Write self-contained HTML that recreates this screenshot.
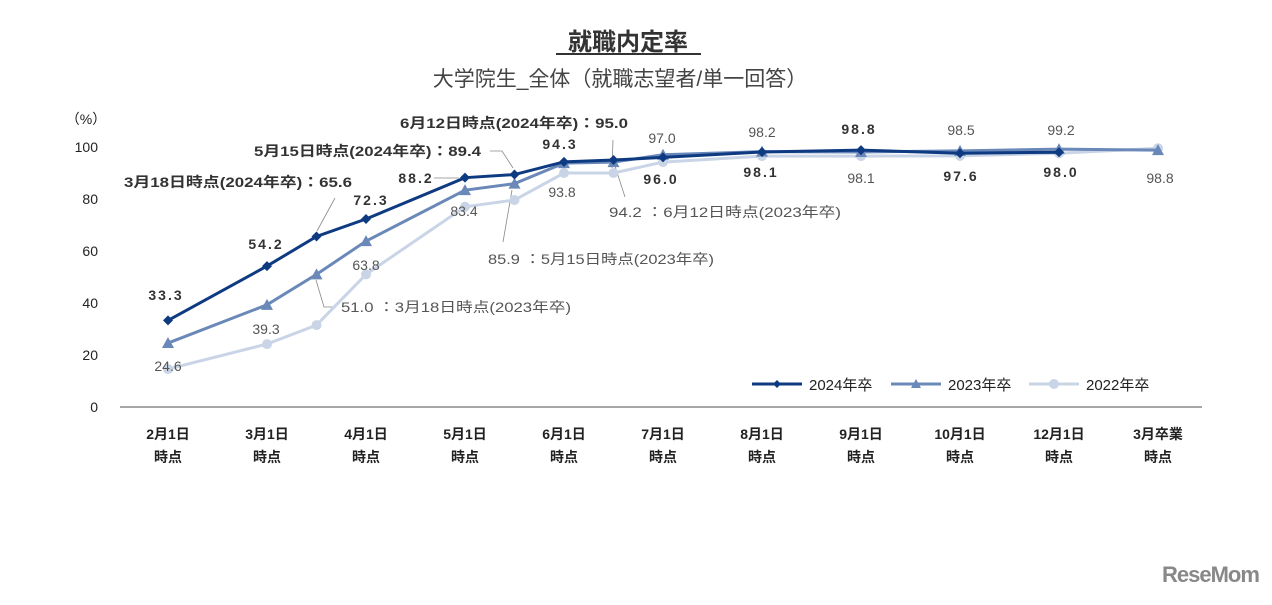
<!DOCTYPE html>
<html><head><meta charset="utf-8"><style>
body{margin:0;background:#fff;width:1272px;height:600px;overflow:hidden;font-family:"Liberation Sans","Noto Sans CJK JP",sans-serif}
</style></head><body>
<svg id="c" width="1272" height="600" font-family="'Liberation Sans','Noto Sans CJK JP',sans-serif">
<text x="628" y="50" text-anchor="middle" font-size="24" font-weight="bold" fill="#333">就職内定率</text>
<line x1="556" y1="54" x2="701" y2="54" stroke="#333" stroke-width="2"/>
<text x="620" y="86" text-anchor="middle" font-size="21" fill="#444">大学院生_全体（就職志望者/単一回答）</text>
<text x="86" y="124" text-anchor="middle" font-size="14" fill="#222">（%）</text>
<g id="g"></g>
</svg>
<script>
const cats=["2月1日","3月1日","3月18日","4月1日","5月1日","5月15日","6月1日","6月12日","7月1日","8月1日","9月1日","10月1日","12月1日","3月卒業"];
const catPos=[0,1,1.5,2,3,3.5,4,4.5,5,6,7,8,9,10];
const axisLabels=[["2月1日","時点"],["3月1日","時点"],["4月1日","時点"],["5月1日","時点"],["6月1日","時点"],["7月1日","時点"],["8月1日","時点"],["9月1日","時点"],["10月1日","時点"],["12月1日","時点"],["3月卒業","時点"]];
const s2024=[33.3,54.2,65.6,72.3,88.2,89.4,94.3,95.0,96.0,98.1,98.8,97.6,98.0,null];
const s2023=[24.6,39.3,51.0,63.8,83.4,85.9,93.8,94.2,97.0,98.2,98.1,98.5,99.2,98.8];
const s2022=[14.6,24.2,31.5,51.0,77.0,79.6,90.0,90.0,94.2,96.5,96.5,96.6,97.6,99.5];
const yTicks=[0,20,40,60,80,100];
const X=p=>168+p*99, Y=v=>407-v*2.6;
const g=document.getElementById('g');
const NS='http://www.w3.org/2000/svg';
function mk(t,a,txt){const e=document.createElementNS(NS,t);for(const k in a)e.setAttribute(k,a[k]);if(txt!=null)e.textContent=txt;g.appendChild(e);return e;}
yTicks.forEach(v=>{const t=mk('text',{x:98,y:Y(v)+5,'text-anchor':'end','font-size':14,fill:'#222'},v);

});
const ax=mk('line',{x1:120,y1:407,x2:1202,y2:407,stroke:'#888','stroke-width':1.5});


axisLabels.forEach((l,i)=>{l.forEach((s,j)=>{const t=mk('text',{x:X(i),y:439+j*23,'text-anchor':'middle','font-size':14,'font-weight':'bold',fill:'#222'},s);

});});
[[335,198,317,231],[490,151,502,151,513,168],[434,178,459,178],[316,280,324,307,334,307],[512,190,503,242],[613,140,612,168],[614,163,625,197]].forEach(p=>{let pts=[];for(let i=0;i<p.length;i+=2)pts.push(p[i]+','+p[i+1]);
const l=mk('polyline',{points:pts.join(' '),fill:'none',stroke:'#888','stroke-width':0.8});

});
function series(d,color,w,marker,name){
 let pts=[];d.forEach((v,i)=>{if(v!=null)pts.push([X(catPos[i]),Y(v)]);});
 const pl=mk('polyline',{points:pts.map(p=>p.join(',')).join(' '),fill:'none',stroke:color,'stroke-width':w});
 
 
 pts.forEach(p=>{let m;
  if(marker=='d')m=mk('polygon',{points:`${p[0]},${p[1]-5} ${p[0]+5},${p[1]} ${p[0]},${p[1]+5} ${p[0]-5},${p[1]}`,fill:color});
  else if(marker=='t')m=mk('polygon',{points:`${p[0]},${p[1]-6} ${p[0]+6},${p[1]+5} ${p[0]-6},${p[1]+5}`,fill:color});
  else m=mk('circle',{cx:p[0],cy:p[1],r:5,fill:color});
  
  });
}
series(s2022,'#c9d5e6',3,'c','series-2022');
series(s2023,'#6a88b8',3,'t','series-2023');
series(s2024,'#0e3a82',3,'d','series-2024');
function lab(x,y,s,b,anchor,len){const a={x:x,y:y,'text-anchor':anchor||'middle','font-size':14,'font-weight':b?'bold':'normal',fill:b?'#333':'#555','letter-spacing':b?2:0};
if(len){a.textLength=len;a.lengthAdjust='spacingAndGlyphs';a['letter-spacing']=0;}
const t=mk('text',a,s);

}
lab(166,300,'33.3',1);lab(266,249,'54.2',1);lab(371,205,'72.3',1);lab(416,183,'88.2',1);lab(560,149,'94.3',1);
lab(661,184,'96.0',1);lab(761,177,'98.1',1);lab(859,134,'98.8',1);lab(961,181,'97.6',1);lab(1061,177,'98.0',1);
lab(168,371,'24.6');lab(266,334,'39.3');lab(366,270,'63.8');lab(464,216,'83.4');lab(562,197,'93.8');
lab(662,143,'97.0');lab(762,137,'98.2');lab(961,135,'98.5');lab(1061,135,'99.2');lab(1160,183,'98.8');lab(861,183,'98.1');
lab(124,187,'3月18日時点(2024年卒)：65.6',1,'start',228);
lab(254,156,'5月15日時点(2024年卒)：89.4',1,'start',227);
lab(400,128,'6月12日時点(2024年卒)：95.0',1,'start',228);
lab(341,312,'51.0 ：3月18日時点(2023年卒)',0,'start',230);
lab(488,264,'85.9 ：5月15日時点(2023年卒)',0,'start',226);
lab(609,217,'94.2 ：6月12日時点(2023年卒)',0,'start',232);
[['2024年卒','#0e3a82','d',752],['2023年卒','#6a88b8','t',891],['2022年卒','#c9d5e6','c',1029]].forEach(([n,c,m,x])=>{
 const l=mk('line',{x1:x,y1:384,x2:x+50,y2:384,stroke:c,'stroke-width':3});
 
 
 const cx=x+25;
 if(m=='d')mk('polygon',{points:`${cx},380 ${cx+4},384 ${cx},388 ${cx-4},384`,fill:c});
 else if(m=='t')mk('polygon',{points:`${cx},379 ${cx+5},388 ${cx-5},388`,fill:c});
 else mk('circle',{cx:cx,cy:384,r:5,fill:c});
 const t=mk('text',{x:x+57,y:390,'font-size':15,fill:'#222'},n);
 
 
});
</script>
<div style="position:absolute;left:1162px;top:562px;font-size:22px;font-weight:bold;color:#888;letter-spacing:-1px">ReseMom</div>
</body></html>
